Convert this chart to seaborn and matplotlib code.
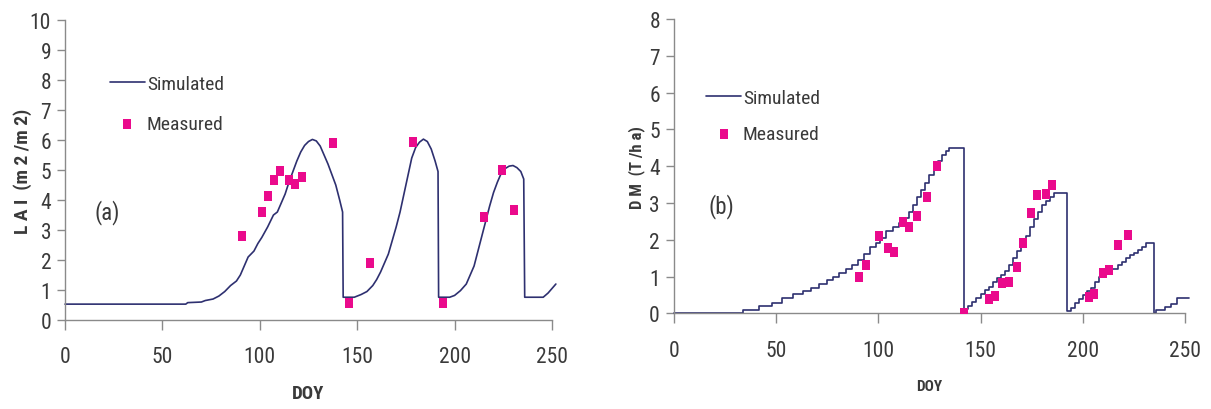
import numpy as np
import pandas as pd
import matplotlib
matplotlib.use("Agg")
import matplotlib.pyplot as plt
from matplotlib import font_manager
import seaborn as sns

sns.set_style("ticks")

# pick a narrow/condensed sans if one is installed
_fonts = font_manager.fontManager.ttflist
_names = {f.name for f in _fonts}
FAMILY = None
STRETCH = "normal"
for cand in ["Liberation Sans Narrow", "Roboto Condensed", "Open Sans Condensed",
             "Noto Sans Condensed", "Arial Narrow"]:
    if cand in _names:
        FAMILY = cand
        break
if FAMILY is None:
    for f in _fonts:
        if f.name in ("DejaVu Sans", "Noto Sans", "Roboto", "Open Sans") and \
                str(f.stretch) in ("condensed", "semi-condensed", "75", "87"):
            FAMILY = f.name
            STRETCH = "condensed"
            break
NARROW = FAMILY is not None
if FAMILY is None:
    FAMILY = "Liberation Sans"
plt.rcParams['font.family'] = [FAMILY, 'Liberation Sans', 'DejaVu Sans']
plt.rcParams['font.stretch'] = STRETCH

# ---------------- Panel (a): LAI ----------------
lai_sim_doy = [0, 62, 63, 70, 72, 76, 79, 82, 85, 88, 90, 92, 94, 97, 99, 101, 104, 107, 109,
               111, 113, 115, 117, 119, 121, 123, 125, 127, 129, 131, 133, 135, 137, 139, 141,
               142.5, 142.8, 148.5, 152, 155, 158, 160, 162, 164, 166, 168, 170, 172, 174, 176,
               178, 180, 182, 184, 186, 188, 190, 191.5, 191.8, 197.5, 200, 203, 206, 208, 210,
               212, 214, 216, 218, 220, 222, 224, 226, 228, 230, 232, 234, 235.5, 236, 245.5,
               248, 250, 252]
lai_sim = [0.53, 0.53, 0.58, 0.6, 0.65, 0.7, 0.8, 0.95, 1.15, 1.3, 1.5, 1.8, 2.1, 2.3, 2.55,
           2.75, 3.1, 3.5, 3.6, 3.9, 4.2, 4.6, 4.95, 5.3, 5.6, 5.82, 5.95, 6.02, 5.97, 5.8, 5.5,
           5.2, 4.85, 4.5, 4.0, 3.6, 0.76, 0.76, 0.85, 0.95, 1.15, 1.35, 1.6, 1.9, 2.2, 2.65,
           3.1, 3.6, 4.2, 4.8, 5.4, 5.75, 5.93, 6.03, 5.95, 5.7, 5.3, 4.95, 0.76, 0.76, 0.82,
           0.98, 1.2, 1.5, 1.8, 2.3, 2.8, 3.3, 3.8, 4.25, 4.6, 4.9, 5.05, 5.13, 5.15, 5.08,
           4.95, 4.7, 0.76, 0.76, 0.9, 1.05, 1.2]
lai_obs_doy = [91, 100.9, 104, 107.5, 110.6, 114.9, 118, 121.8, 137.7, 145.7, 156.5, 178.6,
               194.1, 215, 224.1, 230.7]
lai_obs = [2.81, 3.61, 4.14, 4.67, 4.96, 4.67, 4.53, 4.78, 5.89, 0.56, 1.89, 5.94, 0.56,
           3.44, 5.01, 3.68]

# ---------------- Panel (b): DM ----------------
dm_sim_doy = [0, 33.7, 41.8, 47.9, 52.8, 58.1, 63.3, 67, 71, 75, 78, 81, 84, 87, 90, 93, 96,
              99, 101, 104, 107, 110, 112, 115, 117, 119, 121, 123, 125, 127, 129, 131, 133,
              134.5, 141.9, 144, 146, 148, 150, 152, 154, 156, 158, 160, 162, 164, 166, 168,
              170, 172, 174, 176, 178, 180, 182, 184, 186, 192.1, 194, 196, 198, 200, 202, 204,
              206, 208, 210, 212, 217, 219, 221, 223, 225, 227, 229, 231, 235, 236, 240, 243,
              246, 252]
dm_sim = [0, 0.09, 0.19, 0.28, 0.42, 0.52, 0.61, 0.7, 0.8, 0.9, 1.0, 1.1, 1.2, 1.3, 1.45, 1.6,
          1.8, 1.9, 2.05, 2.25, 2.35, 2.45, 2.6, 2.75, 2.95, 3.15, 3.35, 3.55, 3.75, 3.95, 4.15,
          4.3, 4.42, 4.48, 0.12, 0.2, 0.3, 0.42, 0.52, 0.62, 0.72, 0.84, 0.95, 1.05, 1.15, 1.3,
          1.5, 1.7, 1.9, 2.1, 2.35, 2.55, 2.75, 2.95, 3.05, 3.15, 3.27, 0.07, 0.15, 0.28, 0.4,
          0.5, 0.6, 0.7, 0.85, 1.0, 1.12, 1.2, 1.3, 1.4, 1.5, 1.58, 1.65, 1.72, 1.8, 1.9, 0.0,
          0.08, 0.16, 0.25, 0.42, 0.42]
dm_obs_doy = [90.7, 93.8, 100.5, 104.7, 107.8, 112.1, 115, 118.8, 123.7, 128.9, 141.8, 154,
              156.9, 160.6, 163.8, 168, 170.9, 174.5, 177.6, 181.8, 185.1, 203.2, 205.6, 209.7,
              212.8, 217.2, 222]
dm_obs = [0.98, 1.31, 2.11, 1.77, 1.68, 2.48, 2.34, 2.65, 3.16, 4.0, 0.02, 0.39, 0.48, 0.82,
          0.85, 1.27, 1.91, 2.74, 3.22, 3.25, 3.49, 0.43, 0.52, 1.09, 1.18, 1.86, 2.14]

x_ticks = [0, 50, 100, 150, 200, 250]

LINE_C = "#2e3070"
PINK = "#ea0a8c"
TEXT_C = "#3a3a3a"
SPINE_C = "#8a8a8a"
rect_marker = [(-0.75, -1), (0.75, -1), (0.75, 1), (-0.75, 1), (-0.75, -1)]

TICK_FS = 15.5 if NARROW else 13.5
LEG_FS = 14 if NARROW else 12.5
TAG_FS = 16.5 if NARROW else 15

fig = plt.figure(figsize=(12.11, 4.10), dpi=100)
axA = fig.add_axes([0.0537, 0.217, 0.4021, 0.7317])
axB = fig.add_axes([0.5564, 0.2334, 0.4222, 0.7178])

dfa_l = pd.DataFrame({"DOY": lai_sim_doy, "v": lai_sim})
dfa_p = pd.DataFrame({"DOY": lai_obs_doy, "v": lai_obs})
dfb_l = pd.DataFrame({"DOY": dm_sim_doy, "v": dm_sim})
dfb_p = pd.DataFrame({"DOY": dm_obs_doy, "v": dm_obs})

sns.lineplot(data=dfa_l, x="DOY", y="v", ax=axA, color=LINE_C, lw=1.2, sort=False,
             estimator=None, label="Simulated", clip_on=False)
sns.scatterplot(data=dfa_p, x="DOY", y="v", ax=axA, color=PINK, marker=rect_marker, s=55,
                linewidth=0, label="Measured", zorder=3)

sns.lineplot(data=dfb_l, x="DOY", y="v", ax=axB, color=LINE_C, lw=1.2, sort=False,
             estimator=None, label="Simulated", drawstyle="steps-post", clip_on=False)
sns.scatterplot(data=dfb_p, x="DOY", y="v", ax=axB, color=PINK, marker=rect_marker, s=55,
                linewidth=0, label="Measured", zorder=3)


def style(ax, ymax, ylabel, ylab_size, ylab_x, xlab_size, xlab_y, tag, tag_xy,
          leg_xy, leg_size, leg_spacing):
    ax.set_xlim(0, 250)
    ax.set_ylim(0, ymax)
    ax.set_xticks(x_ticks)
    ax.set_yticks(range(0, ymax + 1))
    sns.despine(ax=ax)
    for s in ("left", "bottom"):
        ax.spines[s].set_color(SPINE_C)
        ax.spines[s].set_linewidth(1.0)
    ax.tick_params(axis="x", length=7, width=1, color=SPINE_C, pad=12,
                   labelsize=TICK_FS, labelcolor=TEXT_C)
    ax.tick_params(axis="y", length=6, width=1, color=SPINE_C, pad=4,
                   labelsize=TICK_FS, labelcolor=TEXT_C)
    ax.set_xlabel("DOY", fontsize=xlab_size, fontweight="bold", color=TEXT_C)
    ax.xaxis.set_label_coords(0.5, xlab_y)
    ax.set_ylabel(ylabel, fontsize=ylab_size, fontweight="bold", color=TEXT_C)
    ax.yaxis.set_label_coords(ylab_x, 0.5)
    ax.text(tag_xy[0], tag_xy[1], tag, transform=ax.transAxes, fontsize=TAG_FS,
            color=TEXT_C, ha="center", va="center")
    ax.legend(loc="upper left", bbox_to_anchor=leg_xy, frameon=False, borderpad=0,
              borderaxespad=0, handlelength=1.8, handletextpad=0.1,
              labelspacing=leg_spacing, prop={"size": leg_size})
    for t in ax.get_legend().get_texts():
        t.set_color(TEXT_C)


style(axA, 10, "L A I  (m 2 /m 2)", 14, -0.068, 13.5, -0.213, "(a)", (0.086, 0.36),
      (0.092, 0.817), LEG_FS, 1.12)
style(axB, 8, "D M  (T /h a)", 12, -0.056, 11, -0.2216, "(b)", (0.094, 0.365),
      (0.063, 0.762), LEG_FS, 0.92)

fig.savefig("out.png", dpi=100)
